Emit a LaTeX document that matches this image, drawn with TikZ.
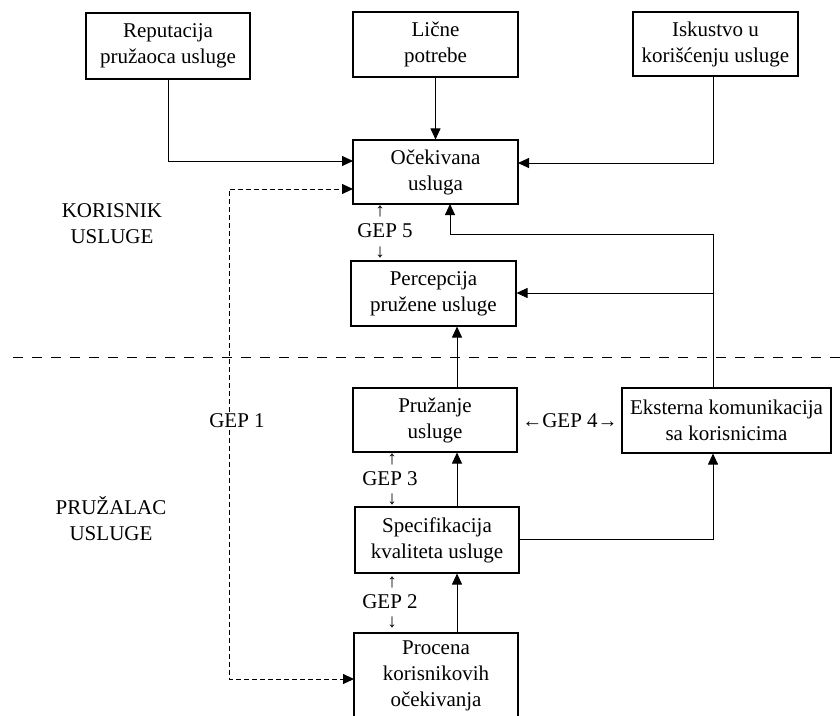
\documentclass[tikz,border=0pt]{standalone}
\usepackage{fontspec}
\setmainfont{Liberation Serif}
\usetikzlibrary{arrows.meta,calc}
\begin{document}
\begin{tikzpicture}[x=1pt,y=-1pt,
  box/.style={draw,line width=1.1pt,inner sep=0pt,align=center,font=\fontsize{21}{26}\selectfont},
  lbl/.style={inner sep=0pt,align=center,font=\fontsize{21}{26}\selectfont},
  sarr/.style={inner sep=0pt,font=\fontsize{19}{19}\selectfont},
  conn/.style={line width=0.9pt,-{Triangle[length=11pt,width=10pt]}},
  plain/.style={line width=0.9pt},
  gapline/.style={line width=0.9pt,dash pattern=on 5pt off 3pt,-{Triangle[length=11pt,width=10pt]}},
  sep/.style={line width=0.9pt,dash pattern=on 10pt off 9pt}
]
\useasboundingbox (0,0) rectangle (840,715);
\clip (0,0) rectangle (840,715);

% boxes
\node[box,minimum width=164pt,minimum height=66pt] (rep) at (168,46) {Reputacija\\pružaoca usluge};
\node[box,minimum width=165pt,minimum height=65pt] (lic) at (435.5,44.5) {Lične\\potrebe};
\node[box,minimum width=165pt,minimum height=64pt] (isk) at (715.5,44) {Iskustvo u\\korišćenju usluge};
\node[box,minimum width=165pt,minimum height=64pt] (oce) at (435.5,172) {Očekivana\\usluga};
\node[box,minimum width=165pt,minimum height=65pt] (per) at (433.5,293.5) {Percepcija\\pružene usluge};
\node[box,minimum width=164pt,minimum height=64pt] (pru) at (435,420) {Pružanje\\usluge};
\node[box,minimum width=209pt,minimum height=65pt] (eks) at (726.5,420.5) {Eksterna komunikacija\\sa korisnicima};
\node[box,minimum width=164pt,minimum height=66pt] (spe) at (437,540) {Specifikacija\\kvaliteta usluge};
\node[box,minimum width=164pt,minimum height=86pt] (pro) at (436,676) {Procena\\korisnikovih\\očekivanja};

% side labels
\node[lbl] (kor) at (112,224) {KORISNIK\\USLUGE};
\node[lbl] (prz) at (111,519) {PRUŽALAC\\USLUGE};

% gap labels
\node[lbl] (gep1) at (237,421) {GEP 1};
\node[lbl] (gep5) at (385,231) {GEP 5};
\node[sarr] (g5u) at (380,211) {↑};
\node[sarr] (g5d) at (380,252) {↓};
\node[lbl] (gep3) at (390,479) {GEP 3};
\node[sarr] (g3u) at (392,459) {↑};
\node[sarr] (g3d) at (392,499) {↓};
\node[lbl] (gep2) at (390,602) {GEP 2};
\node[sarr] (g2u) at (392,582) {↑};
\node[sarr] (g2d) at (392,622) {↓};
\node[lbl] (gep4) at (570,421) {{\fontsize{20}{20}\selectfont←}GEP 4{\fontsize{20}{20}\selectfont→}};

% helper coordinates
\coordinate (oceA) at (353,161);
\coordinate (oceD) at (353,189);
\coordinate (oceR) at (518,163);
\coordinate (oceB) at (450,204);
\coordinate (bendA) at (713,234);
\coordinate (junc) at (713,293);
\coordinate (ex) at (713,0);
\coordinate (cx) at (457,0);
\coordinate (gx) at (229,0);
\coordinate (proD) at (354,679);
\coordinate (sepL) at (13,357);
\coordinate (sepR) at (840,357);

% separator
\draw[sep] (sepL) -- (sepR);

% connectors
\draw[conn] (rep.south) |- (oceA);
\draw[conn] (lic.south) -- (oce.north);
\draw[conn] (isk.south -| ex) |- (oceR);
\draw[plain] (eks.north -| ex) -- (bendA);
\draw[conn] (bendA) -| (oceB);
\draw[conn] (junc) -- (per.east |- junc);
\draw[conn] (pru.north -| cx) -- (per.south -| cx);
\draw[conn] (spe.north -| cx) -- (pru.south -| cx);
\draw[conn] (pro.north -| cx) -- (spe.south -| cx);
\draw[conn] (spe.east |- 0,539) -| (eks.south -| ex);

% GEP 1 dashed path
\draw[gapline] ($(gep1.north -| gx)+(0,-2)$) |- (oceD);
\draw[gapline] ($(gep1.south -| gx)+(0,2)$) |- (proD);
\end{tikzpicture}
\end{document}
